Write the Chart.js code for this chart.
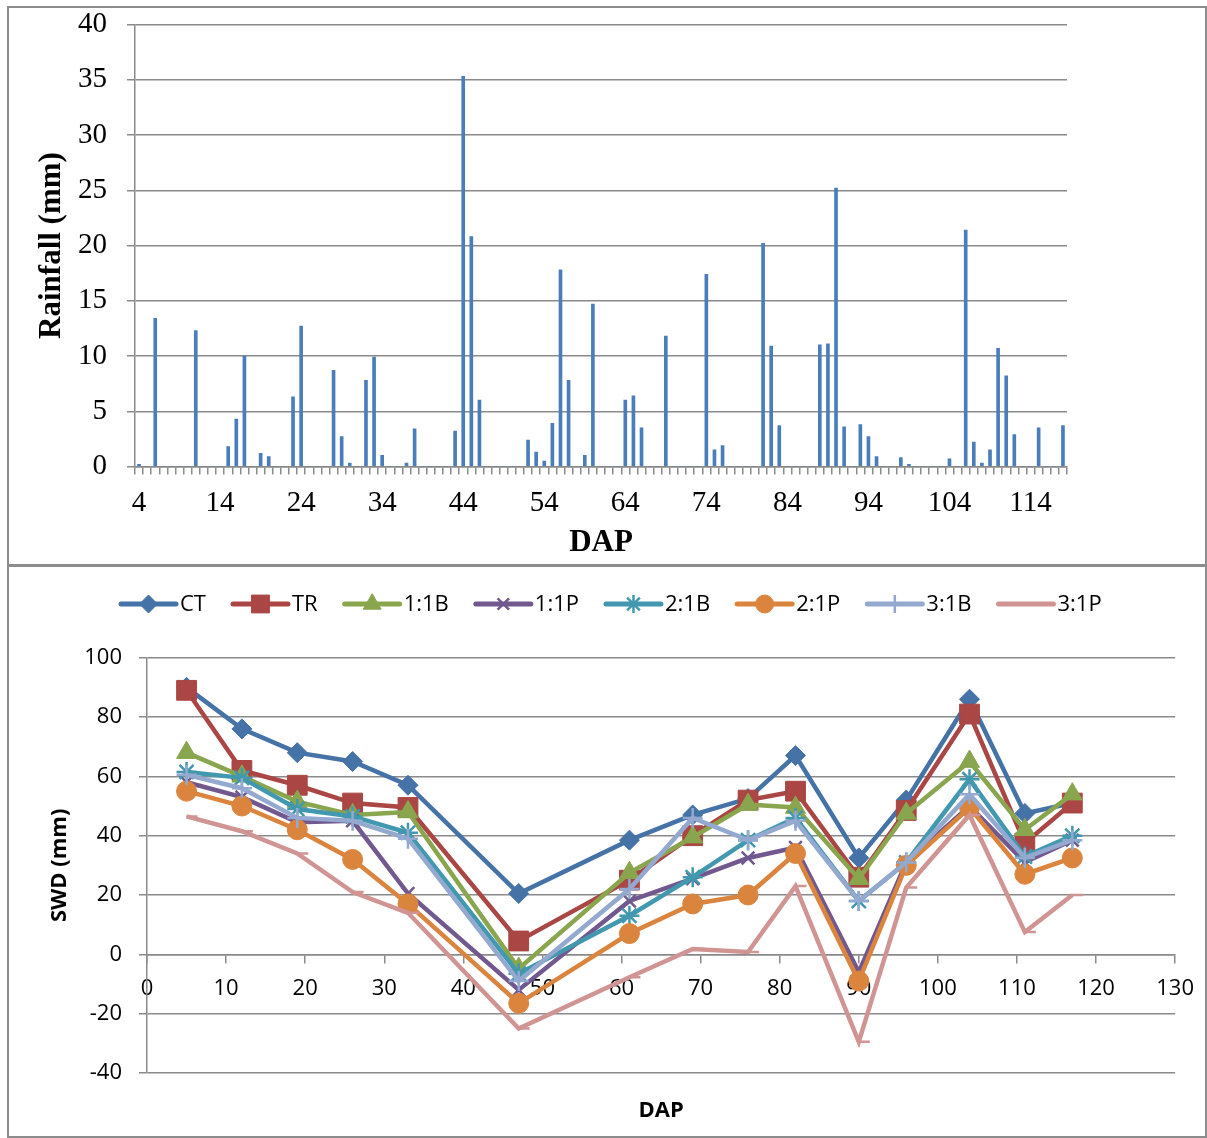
<!DOCTYPE html>
<html>
<head>
<meta charset="utf-8">
<title>Rainfall and SWD by DAP</title>
<script src="https://cdn.jsdelivr.net/npm/chart.js@4.4.1/dist/chart.umd.min.js"></script>
<style>
  html, body { margin: 0; padding: 0; background: #fff; }
  body { position: relative; width: 1207px; height: 1138px; overflow: hidden; }
  .frame { position: absolute; box-sizing: border-box; border: 2px solid #8c8c8c; }
  .panel { position: absolute; left: 0; width: 1207px; }
  canvas { display: block; }
</style>
</head>
<body>
<div class="frame" style="left:7px;top:6px;width:1200px;height:561px"></div>
<div class="frame" style="left:7px;top:564px;width:1200px;height:574px"></div>
<div class="panel" style="top:0;height:565px"><canvas id="rainChart" width="1207" height="565"></canvas></div>
<div class="panel" style="top:565px;height:573px"><canvas id="swdChart" width="1207" height="573"></canvas></div>
<script>
// daily rainfall (mm), only days with rain
const rainDays = [4, 6, 11, 15, 16, 17, 19, 20, 23, 24, 28, 29, 30, 32, 33, 34, 37, 38, 43, 44,
  45, 46, 52, 53, 54, 55, 56, 57, 59, 60, 64, 65, 66, 69, 74, 75, 76, 81, 82, 83,
  88, 89, 90, 91, 93, 94, 95, 98, 99, 104, 106, 107, 108, 109, 110, 111, 112, 115, 118];
const rainMm = [0.2, 13.4, 12.3, 1.8, 4.3, 10.0, 1.2, 0.9, 6.3, 12.7, 8.7, 2.7, 0.3, 7.8, 9.9, 1.0, 0.3, 3.4, 3.2, 35.3,
  20.8, 6.0, 2.4, 1.3, 0.5, 3.9, 17.8, 7.8, 1.0, 14.7, 6.0, 6.4, 3.5, 11.8, 17.4, 1.5, 1.9, 20.2, 10.9, 3.7,
  11.0, 11.1, 25.2, 3.6, 3.8, 2.7, 0.9, 0.8, 0.2, 0.7, 21.4, 2.2, 0.3, 1.5, 10.7, 8.2, 2.9, 3.5, 3.7];
const firstDay = 4;
const lastDay = 118;
const rainTicks = [0, 5, 10, 15, 20, 25, 30, 35, 40];

// soil water deficit (mm) per treatment
const swdDays = [5, 12, 19, 26, 33, 47, 61, 69, 76, 82, 90, 96, 104, 111, 117];
const seriesNames = ['CT', 'TR', '1:1B', '1:1P', '2:1B', '2:1P', '3:1B', '3:1P'];
const swdCT  = [90, 76, 68, 65, 57, 20.5, 38.5, 47, 52.5, 67, 32.5, 52, 86, 47.5, 51];
const swdTR  = [89, 62, 57, 51, 49.5, 4.5, 25, 40, 52, 55, 26, 48.5, 81, 37.5, 51];
const swd11B = [68, 60, 51.5, 47, 48, -4.8, 27.5, 39.5, 50.5, 49.5, 25.5, 47.5, 65, 42, 54];
const swd11P = [58, 53, 44.5, 45, 20.5, -12, 18, 25.5, 32.5, 36, -6, 31, 50, 31, 38.5];
const swd21B = [61.5, 59.5, 49, 46.5, 41, -6.5, 13, 26, 38.5, 46, 18, 31, 59, 33, 40];
const swd21P = [55, 50, 42, 32, 17, -16.5, 7, 17, 20, 34, -9, 30, 49.5, 27, 32.5];
const swd31B = [60.5, 56, 46, 45, 39, -9, 22, 46, 38.5, 45, 18, 31, 54, 32.5, 38.5];
const swd31P = [46.5, 41.5, 34, 21, 14, -25, -7.7, 1.8, 0.8, 23, -29.5, 22.5, 47, 7.5, 20];
const swdTicks = [-40, -20, 0, 20, 40, 60, 80, 100];
const dapTicks = [0, 10, 20, 30, 40, 50, 60, 70, 80, 90, 100, 110, 120, 130];

const gridColor = '#8a8a8a';
Chart.defaults.color = '#000';

// ---------- rainfall bars ----------
const dapLabels = [];
for (let d = firstDay; d <= lastDay; d++) dapLabels.push(d);
const dailyRain = dapLabels.map(d => {
  const i = rainDays.indexOf(d);
  return i >= 0 ? rainMm[i] : 0;
});

const serif = 'Liberation Serif, Times New Roman, serif';
new Chart(document.getElementById('rainChart'), {
  type: 'bar',
  data: {
    labels: dapLabels,
    datasets: [{ data: dailyRain, backgroundColor: '#4a7ebb', barThickness: 3 }]
  },
  options: {
    responsive: false,
    animation: false,
    layout: { padding: { top: 24.5, right: 140, bottom: 0, left: 0 } },
    plugins: { legend: { display: false }, tooltip: { enabled: false } },
    scales: {
      x: {
        grid: { offset: true, drawOnChartArea: false, tickLength: 8, color: gridColor, lineWidth: 1.5 },
        border: { color: gridColor, width: 1.5 },
        ticks: {
          autoSkip: false, maxRotation: 0, padding: 11,
          font: { family: serif, size: 29 },
          callback(v) {
            const d = this.getLabelForValue(v);
            return (d - firstDay) % 10 === 0 ? String(d) : '';
          }
        },
        title: { display: true, text: 'DAP', font: { family: serif, size: 31, weight: 'bold' }, padding: { top: 0, bottom: 3 } },
        afterFit: s => { s.height = 98.5; }
      },
      y: {
        min: rainTicks[0], max: rainTicks[rainTicks.length - 1],
        afterBuildTicks: s => { s.ticks = rainTicks.map(v => ({ value: v })); },
        ticks: { padding: 20, font: { family: serif, size: 29 } },
        grid: { color: gridColor, lineWidth: 1.5, tickLength: 8 },
        border: { color: gridColor, width: 1.5 },
        title: { display: true, text: 'Rainfall (mm)', font: { family: serif, size: 31, weight: 'bold' }, padding: { top: 33, bottom: 0 } },
        afterFit: s => { s.width = 135; s.paddingTop = 0; s.paddingBottom = 0; }
      }
    }
  }
});

// ---------- SWD lines ----------
const sans = 'Open Sans, sans-serif';
const swdValues = [swdCT, swdTR, swd11B, swd11P, swd21B, swd21P, swd31B, swd31P];
const seriesColors = ['#4572a7', '#aa4643', '#89a54e', '#71588f', '#4198af', '#db843d', '#93a9cf', '#d09493'];
const seriesMarkers = [
  { pointStyle: 'rectRot', pointRadius: 10, filled: true },
  { pointStyle: 'rect', pointRadius: 14, filled: true },
  { pointStyle: 'triangle', pointRadius: 11.5, filled: true },
  { pointStyle: 'crossRot', pointRadius: 9, filled: false },
  { pointStyle: 'star', pointRadius: 10, filled: false },
  { pointStyle: 'circle', pointRadius: 10, filled: true },
  { pointStyle: 'cross', pointRadius: 10, filled: false },
  { pointStyle: 'dash', pointRadius: 11, filled: false }
];

const swdDatasets = seriesNames.map((name, i) => ({
  label: name,
  data: swdDays.map((d, j) => ({ x: d, y: swdValues[i][j] })),
  borderColor: seriesColors[i],
  borderWidth: 4.5,
  tension: 0,
  pointStyle: seriesMarkers[i].pointStyle,
  pointRadius: seriesMarkers[i].pointRadius,
  pointBackgroundColor: seriesColors[i],
  pointBorderColor: seriesColors[i],
  pointBorderWidth: seriesMarkers[i].filled ? 1 : 2.5,
  order: seriesNames.length - i
}));

// legend row: short line with the marker, then the name
const lineLegend = {
  id: 'lineLegend',
  afterDraw(chart) {
    const ctx = chart.ctx;
    const y = 39;
    let x = 121;
    ctx.save();
    ctx.font = '22px ' + sans;
    ctx.textBaseline = 'middle';
    chart.data.datasets.forEach(ds => {
      ctx.strokeStyle = ds.borderColor;
      ctx.lineWidth = 5;
      ctx.lineCap = 'round';
      ctx.beginPath();
      ctx.moveTo(x, y);
      ctx.lineTo(x + 55, y);
      ctx.stroke();
      ctx.lineCap = 'butt';
      ctx.fillStyle = ds.pointBackgroundColor;
      ctx.strokeStyle = ds.pointBorderColor;
      ctx.lineWidth = ds.pointBorderWidth;
      if (ds.pointStyle !== 'dash') {
        Chart.helpers.drawPoint(ctx, { pointStyle: ds.pointStyle, radius: ds.pointRadius * 0.9, borderWidth: ds.pointBorderWidth, rotation: 0 }, x + 27.5, y);
      }
      ctx.fillStyle = '#000';
      ctx.fillText(ds.label, x + 59, y + 1);
      x += 59 + ctx.measureText(ds.label).width + 27;
    });
    ctx.restore();
  }
};

new Chart(document.getElementById('swdChart'), {
  type: 'line',
  data: { datasets: swdDatasets },
  options: {
    responsive: false,
    animation: false,
    layout: { padding: { top: 92.7, right: 31, bottom: 0, left: 0 } },
    plugins: { legend: { display: false }, tooltip: { enabled: false } },
    scales: {
      x: {
        type: 'linear',
        position: { y: 0 },
        min: dapTicks[0], max: dapTicks[dapTicks.length - 1],
        afterBuildTicks: s => { s.ticks = dapTicks.map(v => ({ value: v })); },
        grid: { drawOnChartArea: false, tickLength: 8, color: gridColor, lineWidth: 1.5 },
        border: { color: gridColor, width: 1.5 },
        ticks: { padding: 13, maxRotation: 0, font: { family: sans, size: 22 } }
      },
      xTitle: {
        type: 'linear',
        axis: 'x',
        position: 'bottom',
        min: 0, max: 130,
        grid: { display: false },
        border: { display: false },
        ticks: { display: false },
        title: { display: true, text: 'DAP', font: { family: sans, size: 22, weight: 'bold' }, padding: { top: 0, bottom: 14 } },
        afterFit: s => { s.height = 65; }
      },
      y: {
        min: swdTicks[0], max: swdTicks[swdTicks.length - 1],
        afterBuildTicks: s => { s.ticks = swdTicks.map(v => ({ value: v })); },
        ticks: { padding: 17, font: { family: sans, size: 22 } },
        grid: { color: gridColor, lineWidth: 1.5, tickLength: 8 },
        border: { color: gridColor, width: 1.5 },
        title: { display: true, text: 'SWD (mm)', font: { family: sans, size: 22, weight: 'bold' }, padding: { top: 47, bottom: 0 } },
        afterFit: s => { s.width = 147; }
      }
    }
  },
  plugins: [lineLegend]
});
</script>
</body>
</html>
